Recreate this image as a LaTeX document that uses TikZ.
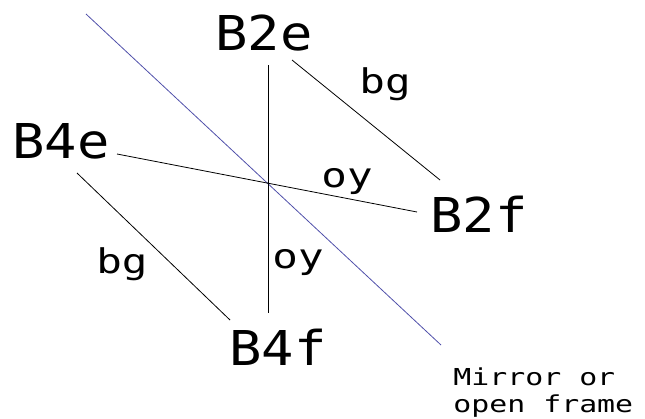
\documentclass[tikz,border=0pt]{standalone}
\usepackage{fontspec}
\newfontfamily\beamfont[FakeStretch=1.12]{DejaVu Sans Mono}
\newfontfamily\tagfont[FakeStretch=1.25]{DejaVu Sans Mono}
\newfontfamily\notefont[FakeStretch=1.28]{DejaVu Sans Mono}
\usepackage{xcolor}
\usepackage{tikz}
\usetikzlibrary{calc}
\definecolor{mirrorblue}{RGB}{80,80,170}

\begin{document}
\begin{tikzpicture}[x=0.75pt, y=-0.75pt, line width=0.6pt,
    big/.style={font=\beamfont\fontsize{36}{36}\selectfont, inner sep=0pt, anchor=base},
    small/.style={font=\tagfont\fontsize{25.5}{25.5}\selectfont, inner sep=0pt, anchor=base}]
    \useasboundingbox (0,0) rectangle (645,418);
    % Mirror
    \coordinate (M1) at (86,14);
    \coordinate (M2) at (441,345);
    \draw[mirrorblue] (M1) -- (M2);
    % Labels of the beams
    \node[big] (B2e) at (264,50) {B2e};
    \node[big] (B4e) at (61,158) {B4e};
    \node[big] (B2f) at (479,232) {B2f};
    \node[big] (B4f) at (278,365) {B4f};
    % Beam lines
    \coordinate (V1) at (268,65);
    \coordinate (V2) at (268,313);
    \draw (V1) -- (V2);
    \coordinate (H1) at (117,154);
    \coordinate (H2) at (417,212);
    \draw (H1) -- (H2);
    \coordinate (D1) at (292,60);
    \coordinate (D2) at (440,180);
    \draw (D1) -- (D2);
    \coordinate (E1) at (77,173);
    \coordinate (E2) at (230,320);
    \draw (E1) -- (E2);
    % Colour tags
    \node[small] (bgR) at (385,93) {bg};
    \node[small] (bgL) at (122,273) {bg};
    \node[small] (oyH) at (347,187) {oy};
    \node[small] (oyV) at (298,268) {oy};
    % Note
    \node[font=\notefont\fontsize{17.5}{20.25}\selectfont, align=left, anchor=base west, inner sep=0pt]
        (mirror) at (453,412) {Mirror or\\open frame};
\end{tikzpicture}
\end{document}
